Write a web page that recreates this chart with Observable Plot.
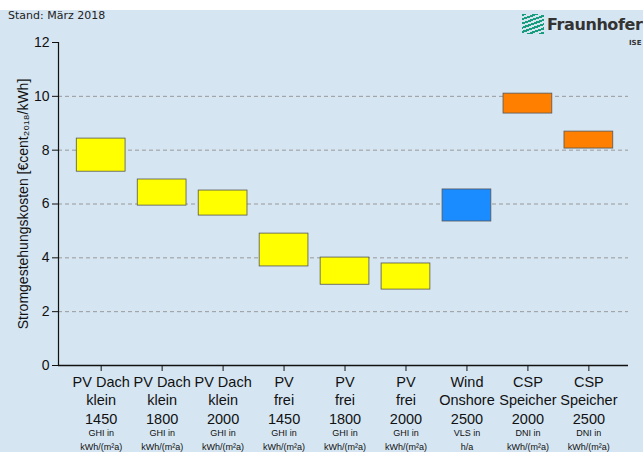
<!DOCTYPE html>
<html><head><meta charset="utf-8">
<script src="https://cdn.jsdelivr.net/npm/d3@7"></script>
<script src="https://cdn.jsdelivr.net/npm/@observablehq/plot@0.6"></script>
<style>
body{margin:0;background:#fff;font-family:"Liberation Sans",Arial,sans-serif}
#wrap{position:relative;width:643px;height:452px;overflow:hidden}
#top{height:10px;background:#fff}
#stand{position:absolute;left:8px;top:9px;font:11px "DejaVu Sans",sans-serif;color:#222}
#logo{position:absolute;left:522px;top:14px;font:bold 16px "DejaVu Sans",sans-serif;color:#333;white-space:nowrap;letter-spacing:-0.4px}
#logo span.ic{display:inline-block;width:22px;height:20px;margin-right:3px;vertical-align:-4px;
 background:repeating-linear-gradient(160deg,#179c7d 0 2px,#d5e5f2 2px 4px)}
#ise{position:absolute;left:629px;top:39px;font:bold 7px "DejaVu Sans",sans-serif;color:#333}
</style></head>
<body><div id="wrap"><div id="top"></div><div id="chart"></div>
<div id="stand">Stand: März 2018</div>
<div id="logo"><span class="ic"></span>Fraunhofer</div><div id="ise">ISE</div></div>
<script>
const names = ["PV Dach\nklein\n1450","PV Dach\nklein\n1800","PV Dach\nklein\n2000","PV\nfrei\n1450","PV\nfrei\n1800","PV\nfrei\n2000","Wind\nOnshore\n2500","CSP\nSpeicher\n2000","CSP\nSpeicher\n2500"];
const units = ["GHI in\nkWh/(m²a)","GHI in\nkWh/(m²a)","GHI in\nkWh/(m²a)","GHI in\nkWh/(m²a)","GHI in\nkWh/(m²a)","GHI in\nkWh/(m²a)","VLS in\nh/a","DNI in\nkWh/(m²a)","DNI in\nkWh/(m²a)"];
const low  = [7.20, 5.94, 5.57, 3.68, 3.00, 2.82, 5.35, 9.36, 8.06];
const high = [8.43, 6.91, 6.50, 4.90, 4.01, 3.79, 6.54, 10.10, 8.69];
const tech = ["PV","PV","PV","PV","PV","PV","Wind","CSP","CSP"];
const colors = {PV:"#ffff00", Wind:"#1a8cff", CSP:"#ff8000"};

const data = names.map((n,i)=>({i, n, u:units[i], low:low[i], high:high[i], tech:tech[i]}));

const chart = Plot.plot({
  width:643, height:442,
  marginLeft:58, marginRight:15, marginTop:32, marginBottom:87,
  style:{background:"#d5e5f2", fontFamily:"Liberation Sans, Arial, sans-serif", fontSize:"14px", color:"#111"},
  x:{type:"linear", domain:[-0.7,8.65], axis:null},
  y:{type:"linear", domain:[0,12], axis:null},
  marks:[
    Plot.ruleY([2,4,6,8,10], {stroke:"#999", strokeDasharray:"4,3", strokeWidth:1}),
    Plot.rectY(data, {x1:d=>d.i-0.4, x2:d=>d.i+0.4, y1:"low", y2:"high",
      fill:d=>colors[d.tech], stroke:"#555", strokeWidth:0.8}),
    Plot.ruleY([0], {stroke:"#111", strokeWidth:1.5}),
    Plot.axisY({ticks:[0,2,4,6,8,10,12], tickSize:6, tickPadding:3, fontSize:14,
      label:"Stromgestehungskosten [€cent₂₀₁₈/kWh]", labelAnchor:"center", labelArrow:"none", labelOffset:40}),
    Plot.ruleX([-0.7], {y1:0, y2:12, stroke:"#111", strokeWidth:1.2}),
    Plot.axisX({ticks:d3.range(9), tickSize:6, tickFormat:()=>"", label:null}),
    Plot.text(data, {x:"i", y:0, text:"n", dy:9, lineAnchor:"top", lineHeight:1.25, fontSize:14.5, fill:"#111"}),
    Plot.text(data, {x:"i", y:0, text:"u", dy:61, lineAnchor:"top", lineHeight:1.55, fontSize:9, fill:"#111"})
  ]
});
document.getElementById("chart").append(chart);
</script></body></html>
